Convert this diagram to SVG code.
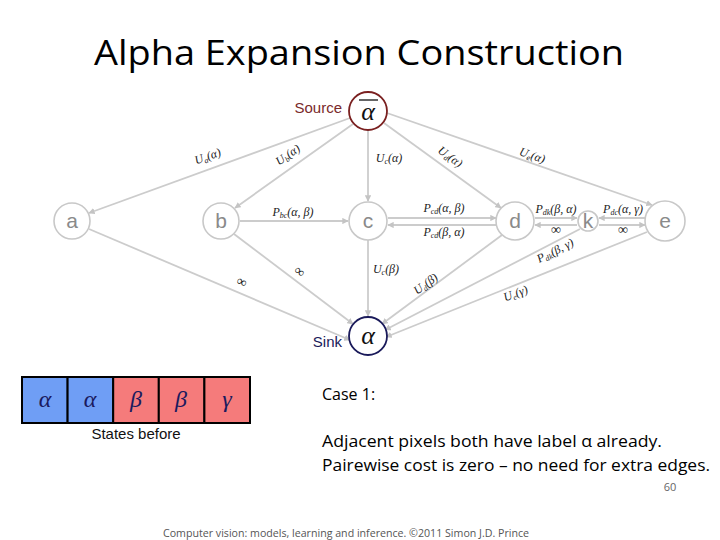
<svg xmlns="http://www.w3.org/2000/svg" width="720" height="540" viewBox="0 0 720 540">
<style>
.edge{stroke:#cccccc;stroke-width:1.8;fill:none}
.node{fill:#fff;stroke:#c8c8c8;stroke-width:1.6}
.nl{font-family:"Liberation Sans",Arial,sans-serif;font-size:21px;fill:#8a8a8a;text-anchor:middle}
.m{font-family:"Liberation Serif","Times New Roman",serif;font-style:italic;font-size:12px;fill:#222;text-anchor:middle}
.s{font-size:8px}
.inf{font-family:"Liberation Serif","Times New Roman",serif;font-size:14px;fill:#222;text-anchor:middle}
.cell{stroke:#000;stroke-width:2}
.g{font-family:"Liberation Serif","Times New Roman",serif;font-style:italic;font-size:24px;fill:#1a1a5e;text-anchor:middle}
.body{font-family:"Open Sans","Liberation Sans",sans-serif;font-size:16px;fill:#000}
</style>
<defs>
<marker id="ah" viewBox="0 0 10 10" refX="9" refY="5" markerWidth="3.5" markerHeight="3.5" orient="auto">
<path d="M0,0 L10,5 L0,10 z" fill="#c4c4c4"/>
</marker>
</defs>
<rect width="720" height="540" fill="#fff"/>
<text x="359" y="65" font-family="Open Sans,Liberation Sans,sans-serif" font-size="35" text-anchor="middle" textLength="530" lengthAdjust="spacingAndGlyphs">Alpha Expansion Construction</text>

<g id="connectors">
<line class="edge" x1="350" y1="118" x2="89" y2="213" marker-end="url(#ah)"/>
<line class="edge" x1="353" y1="124" x2="235" y2="208" marker-end="url(#ah)"/>
<line class="edge" x1="368" y1="130" x2="368" y2="201" marker-end="url(#ah)"/>
<line class="edge" x1="384" y1="123" x2="501" y2="208" marker-end="url(#ah)"/>
<line class="edge" x1="387" y1="113" x2="652" y2="205" marker-end="url(#ah)"/>
<line class="edge" x1="240" y1="221" x2="348" y2="221" marker-end="url(#ah)"/>
<line class="edge" x1="388" y1="218" x2="496" y2="218" marker-end="url(#ah)"/>
<line class="edge" x1="496" y1="225" x2="388" y2="225" marker-end="url(#ah)"/>
<line class="edge" x1="535" y1="218" x2="577" y2="218" marker-end="url(#ah)"/>
<line class="edge" x1="577" y1="225" x2="535" y2="225" marker-end="url(#ah)"/>
<line class="edge" x1="645" y1="218" x2="599" y2="218" marker-end="url(#ah)"/>
<line class="edge" x1="599" y1="225" x2="645" y2="225" marker-end="url(#ah)"/>
<line class="edge" x1="89" y1="229" x2="350" y2="340" marker-end="url(#ah)"/>
<line class="edge" x1="234" y1="234" x2="353" y2="324" marker-end="url(#ah)"/>
<line class="edge" x1="368" y1="240" x2="368" y2="316" marker-end="url(#ah)"/>
<line class="edge" x1="502" y1="235" x2="382" y2="324" marker-end="url(#ah)"/>
<line class="edge" x1="580" y1="229" x2="385" y2="330" marker-end="url(#ah)"/>
<line class="edge" x1="647" y1="232" x2="386" y2="337" marker-end="url(#ah)"/>

<text class="m" transform="translate(209,160) rotate(-20)">U<tspan class="s" dy="2">a</tspan><tspan dy="-2">(α)</tspan></text>
<text class="m" transform="translate(290,158) rotate(-35)">U<tspan class="s" dy="2">b</tspan><tspan dy="-2">(α)</tspan></text>
<text class="m" x="389" y="162">U<tspan class="s" dy="2">c</tspan><tspan dy="-2">(α)</tspan></text>
<text class="m" transform="translate(448,160) rotate(36)">U<tspan class="s" dy="2">d</tspan><tspan dy="-2">(α)</tspan></text>
<text class="m" transform="translate(531,159) rotate(19)">U<tspan class="s" dy="2">e</tspan><tspan dy="-2">(α)</tspan></text>
<text class="m" x="293" y="216">P<tspan class="s" dy="2">bc</tspan><tspan dy="-2">(α, β)</tspan></text>
<text class="m" x="444" y="212">P<tspan class="s" dy="2">cd</tspan><tspan dy="-2">(α, β)</tspan></text>
<text class="m" x="444" y="236">P<tspan class="s" dy="2">cd</tspan><tspan dy="-2">(β, α)</tspan></text>
<text class="m" x="556" y="213">P<tspan class="s" dy="2">dk</tspan><tspan dy="-2">(β, α)</tspan></text>
<text class="inf" x="556" y="234">∞</text>
<text class="m" x="623" y="213">P<tspan class="s" dy="2">dc</tspan><tspan dy="-2">(α, γ)</tspan></text>
<text class="inf" x="623" y="234">∞</text>
<text class="inf" transform="translate(240,286) rotate(23)">∞</text>
<text class="inf" transform="translate(297,275) rotate(37)">∞</text>
<text class="m" x="386" y="273">U<tspan class="s" dy="2">c</tspan><tspan dy="-2">(β)</tspan></text>
<text class="m" transform="translate(428,287) rotate(-37)">U<tspan class="s" dy="2">d</tspan><tspan dy="-2">(β)</tspan></text>
<text class="m" transform="translate(557,254) rotate(-27)">P<tspan class="s" dy="2">dk</tspan><tspan dy="-2">(β, γ)</tspan></text>
<text class="m" transform="translate(517,297) rotate(-21)">U<tspan class="s" dy="2">e</tspan><tspan dy="-2">(γ)</tspan></text>
</g>

<g id="source">
<circle cx="368" cy="111" r="19" fill="#fff" stroke="#7a2020" stroke-width="1.8"/>
<text x="368" y="120" font-family="Liberation Serif,serif" font-style="italic" font-size="26" text-anchor="middle" fill="#111">α</text>
<line x1="359" y1="100" x2="378" y2="100" stroke="#111" stroke-width="1.3"/>
<text x="342" y="113" font-family="Liberation Sans,Arial,sans-serif" font-size="15" text-anchor="end" fill="#7a2a2a">Source</text>
</g>
<g id="sink">
<circle cx="368" cy="336" r="19" fill="#fff" stroke="#1a1a5a" stroke-width="1.8"/>
<text x="368" y="344" font-family="Liberation Serif,serif" font-style="italic" font-size="26" text-anchor="middle" fill="#111">α</text>
<text x="342" y="347" font-family="Liberation Sans,Arial,sans-serif" font-size="15" text-anchor="end" fill="#1a1a5a">Sink</text>
</g>
<g id="a"><circle class="node" cx="72" cy="221" r="18"/><text class="nl" x="72" y="228">a</text></g>
<g id="b"><circle class="node" cx="221" cy="221" r="18"/><text class="nl" x="221" y="228">b</text></g>
<g id="c"><circle class="node" cx="368" cy="221" r="19"/><text class="nl" x="368" y="228">c</text></g>
<g id="d"><circle class="node" cx="515" cy="221" r="19"/><text class="nl" x="515" y="228">d</text></g>
<g id="k"><circle class="node" cx="588" cy="221" r="10"/><text class="nl" x="588" y="228" font-size="18">k</text></g>
<g id="e"><circle class="node" cx="665" cy="221" r="20"/><text class="nl" x="665" y="228">e</text></g>

<g id="states">
<rect class="cell" x="22" y="377" width="45.6" height="46" fill="#6f9ef5"/>
<rect class="cell" x="67.6" y="377" width="45.6" height="46" fill="#6f9ef5"/>
<rect class="cell" x="113.2" y="377" width="45.6" height="46" fill="#f57b7b"/>
<rect class="cell" x="158.8" y="377" width="45.6" height="46" fill="#f57b7b"/>
<rect class="cell" x="204.4" y="377" width="45.6" height="46" fill="#f57b7b"/>
<text class="g" x="45" y="407">α</text>
<text class="g" x="90" y="407">α</text>
<text class="g" x="136" y="407" fill="#5a1010">β</text>
<text class="g" x="181" y="407" fill="#5a1010">β</text>
<text class="g" x="227" y="407" fill="#5a1010">γ</text>
<text x="136" y="439" font-family="Liberation Sans,Arial,sans-serif" font-size="15" text-anchor="middle" fill="#111">States before</text>
</g>

<text class="body" x="322" y="400">Case 1:</text>
<text class="body" x="322" y="447" textLength="340" lengthAdjust="spacingAndGlyphs">Adjacent pixels both have label α already.</text>
<text class="body" x="322" y="471" textLength="388" lengthAdjust="spacingAndGlyphs">Pairewise cost is zero – no need for extra edges.</text>
<text x="670" y="491" font-family="Open Sans,Liberation Sans,sans-serif" font-size="11" fill="#666" text-anchor="middle">60</text>
<text x="163" y="537" font-family="Open Sans,Liberation Sans,sans-serif" font-size="11" fill="#555" textLength="366" lengthAdjust="spacingAndGlyphs">Computer vision: models, learning and inference.  ©2011 Simon J.D. Prince</text>
</svg>
